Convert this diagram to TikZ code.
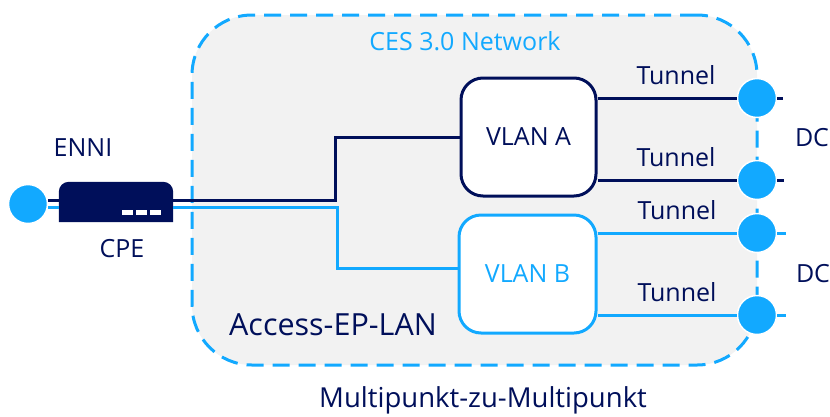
\documentclass[tikz,border=0pt]{standalone}
\usepackage{fontspec}
\setmainfont{Open Sans}
\usetikzlibrary{positioning}
\definecolor{navy}{HTML}{000F5A}
\definecolor{skyblue}{HTML}{12A9FF}
\definecolor{cloudgray}{HTML}{F2F2F2}
\tikzset{
    label/.style={text=navy, font=\fontsize{25}{30}\selectfont, inner sep=0pt},
    port/.style={circle, fill=skyblue, draw=white, line width=1.5pt, minimum size=39pt, inner sep=0pt},
    vlan/.style={rectangle, rounded corners=22pt, fill=white, line width=3pt, minimum width=135pt, minimum height=118pt, font=\fontsize{25}{30}\selectfont},
    navyline/.style={navy, line width=3pt},
    skyline/.style={skyblue, line width=3pt}
}
\begin{document}
\begin{tikzpicture}[x=1pt, y=-1pt]
                \useasboundingbox (0,0) rectangle (830,416);
                \node[draw=skyblue, fill=cloudgray, dash pattern=on 17pt off 9pt, line width=3pt, rounded corners=60pt, minimum width=565pt, minimum height=350pt] (cloud) at (474.5,190) {};
                \node[label, text=skyblue] (ces) at (465,41) {CES 3.0 Network};
                \node[label, font=\fontsize{30.5}{36}\selectfont] (access) at (333,325) {Access-EP-LAN};
                \node[label, font=\fontsize{27.5}{33}\selectfont] (multi) at (483,400) {Multipunkt-zu-Multipunkt};

                \node[vlan, draw=navy, text=navy] (vlana) at (528.5,137) {VLAN A};
                \node[vlan, draw=skyblue, text=skyblue, minimum width=137pt] (vlanb) at (527.5,274) {VLAN B};

                \node[port] (enni) at (28,204) {};
                \node[port] (dca1) at (757,98) {};
                \node[port] (dca2) at (757,180) {};
                \node[port] (dcb1) at (757,233) {};
                \node[port] (dcb2) at (757,315) {};

                \node[minimum width=114pt, minimum height=40pt, inner sep=0pt] (cpe) at (116,202) {};
                \fill[navy] (cpe.south west) -- (cpe.west) [rounded corners=10pt] -- (cpe.north west) -- (cpe.north east) [sharp corners] -- (cpe.east) -- (cpe.south east) -- cycle;
                \foreach \x in {122,136,150}
                    \fill[white] (\x,209.5) rectangle ++(11,5);

                \coordinate (benda) at (335,200);
                \coordinate (bendb) at (337,207);
                \coordinate (enda1) at (783,98);
                \coordinate (enda2) at (784,180);
                \coordinate (endb1) at (786,233);
                \coordinate (endb2) at (786,315);

                \draw[navyline] ([yshift=2pt]cpe.east) -- (benda) |- (vlana.west);
                \draw[skyline] ([yshift=-5pt]cpe.east) -- (bendb) |- ([yshift=6pt]vlanb.west);
                \draw[navyline] ([yshift=4pt]enni.east) -- ([yshift=2pt]cpe.west);
                \draw[skyline] ([yshift=-3pt]enni.east) -- ([yshift=-5pt]cpe.west);
                \draw[navyline] (vlana.east |- dca1) -- (dca1);
                \draw[navyline] (vlana.east |- dca2) -- (dca2);
                \draw[skyline] (vlanb.east |- dcb1) -- (dcb1);
                \draw[skyline] (vlanb.east |- dcb2) -- (dcb2);
                \draw[navyline] (dca1) -- (enda1);
                \draw[navyline] (dca2) -- (enda2);
                \draw[skyline] (dcb1) -- (endb1);
                \draw[skyline] (dcb2) -- (endb2);

                \node[label] (ennilabel) at (83,148) {ENNI};
                \node[label] (cpelabel) at (122,249) {CPE};
                \node[label] (tunnela1) at (676,75) {Tunnel};
                \node[label] (tunnela2) at (676,157) {Tunnel};
                \node[label] (tunnelb1) at (677,210) {Tunnel};
                \node[label] (tunnelb2) at (677,292) {Tunnel};
                \node[label] (dca) at (812,138) {DC};
                \node[label] (dcb) at (813,274) {DC};
            \end{tikzpicture}
\end{document}
